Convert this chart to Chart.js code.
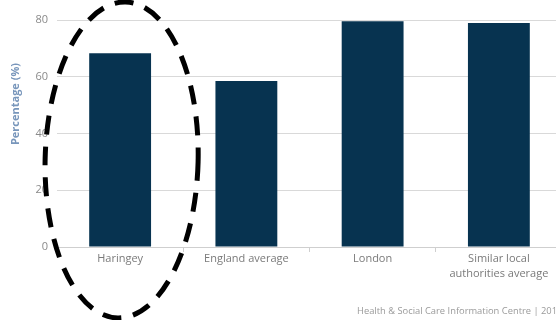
<!DOCTYPE html>
<html>
<head>
<meta charset="utf-8">
<script src="https://cdn.jsdelivr.net/npm/chart.js@4/dist/chart.umd.min.js"></script>
<style>
  html, body { margin: 0; padding: 0; background: #fff; overflow: hidden; }
  #wrap { position: relative; width: 562px; height: 320px; }
  #footer {
    position: absolute; left: 357px; top: 304px; white-space: nowrap;
    font: 9.35px "Open Sans", sans-serif; color: #9a9a9a;
  }
</style>
</head>
<body>
<div id="wrap">
  <canvas id="chart"></canvas>
  <div id="footer">Health &amp; Social Care Information Centre | 2014</div>
</div>
<script>
const categories = ["Haringey", "England average", "London", ["Similar local", "authorities average"]];
const percentages = [68.3, 58.5, 79.6, 78.9];
const yTicks = [0, 20, 40, 60, 80];
const yTitle = "Percentage (%)";

const extras = {
  id: "extras",
  afterDraw(chart) {
    const c = chart.ctx;
    // axis title
    c.save();
    c.translate(16, 104);
    c.rotate(-Math.PI / 2);
    c.font = "bold 11px 'Open Sans', sans-serif";
    c.fillStyle = "#7896bb";
    c.textAlign = "center";
    c.textBaseline = "middle";
    c.fillText(yTitle, 0, 0);
    c.restore();
    // dashed ellipse round the first bar
    const cx = chart.scales.x.getPixelForValue(0) + 1.5;
    c.save();
    c.beginPath();
    c.setLineDash([19, 12]);
    c.lineWidth = 5;
    c.strokeStyle = "#000";
    c.ellipse(cx, 160, 76.5, 158, 0.025, 0, Math.PI * 2);
    c.stroke();
    c.restore();
  }
};

new Chart(document.getElementById("chart").getContext("2d"), {
  type: "bar",
  data: {
    labels: categories,
    datasets: [{
      data: percentages,
      backgroundColor: "#073350",
      barPercentage: 0.49,
      categoryPercentage: 1
    }]
  },
  options: {
    responsive: true,
    maintainAspectRatio: false,
    animation: false,
    layout: { padding: { top: 20, left: 0, right: 0, bottom: 0 } },
    plugins: { legend: { display: false }, tooltip: { enabled: false } },
    scales: {
      x: {
        afterFit: s => { s.height = 73; },
        grid: { drawOnChartArea: false, drawTicks: true, tickLength: 5, color: "#cfcfcf" },
        border: { color: "#cfcfcf" },
        ticks: { color: "#7a7a7a", font: { family: "Open Sans", size: 11, lineHeight: 1.3 }, padding: 0 }
      },
      y: {
        min: 0,
        max: 80,
        afterFit: s => { s.width = 57; },
        afterBuildTicks: s => { s.ticks = yTicks.map(v => ({ value: v })); },
        grid: { drawTicks: false, color: "#d9d9d9" },
        border: { display: false },
        ticks: { color: "#8a8a8a", font: { family: "Open Sans", size: 11 }, padding: 9 }
      }
    }
  },
  plugins: [extras]
});
</script>
</body>
</html>
